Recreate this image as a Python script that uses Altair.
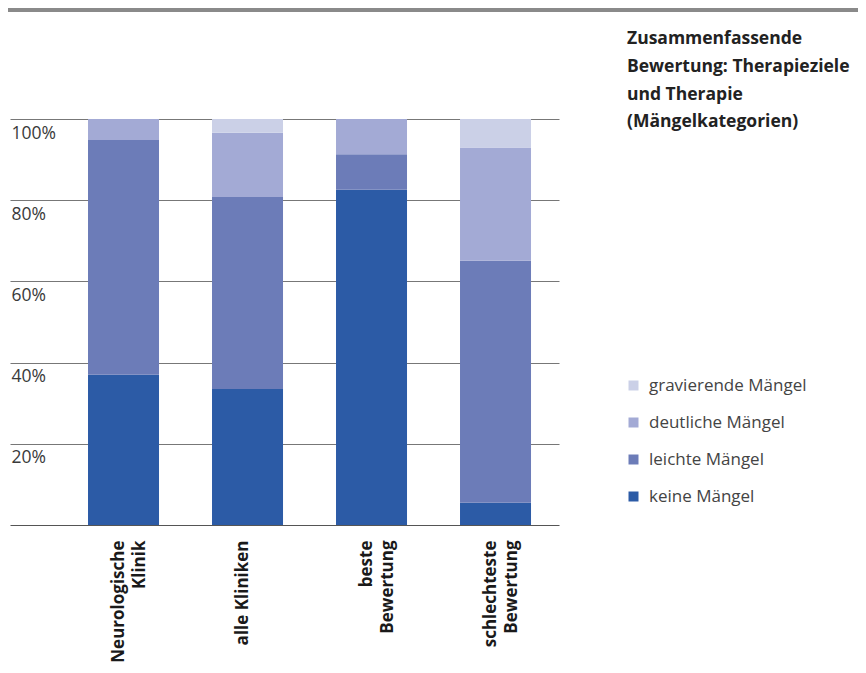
import altair as alt
import pandas as pd

categories = ["Neurologische\nKlinik", "alle Kliniken", "beste\nBewertung", "schlechteste\nBewertung"]
series = ["keine Mängel", "leichte Mängel", "deutliche Mängel", "gravierende Mängel"]
keine = [37.0, 33.5, 82.6, 5.5]
leichte = [57.8, 47.3, 8.7, 59.6]
deutliche = [5.2, 15.8, 8.7, 27.9]
gravierende = [0.0, 3.4, 0.0, 7.0]
colors = ["#2c5ba6", "#6c7cb8", "#a3aad5", "#cbd0e7"]
y_ticks = [20, 40, 60, 80, 100]
title_lines = ["Zusammenfassende", "Bewertung: Therapieziele", "und Therapie", "(Mängelkategorien)"]

rows = []
for si, (name, vals) in enumerate(zip(series, [keine, leichte, deutliche, gravierende])):
    for c, v in zip(categories, vals):
        rows.append({"Kategorie": c, "Serie": name, "Wert": v, "idx": si})
df = pd.DataFrame(rows)

FONT = "Open Sans"

bars = alt.Chart(df).mark_bar().encode(
    x=alt.X("Kategorie:N", sort=categories,
            scale=alt.Scale(paddingInner=0.4274, paddingOuter=0.4274, align=0.736),
            axis=alt.Axis(title=None, labelAngle=270, labelAlign="right", labelBaseline="middle",
                          labelPadding=15, labelFontSize=17, labelFontWeight="bold", labelColor="#1a1a1a",
                          labelFont=FONT, labelLineHeight=21.5, labelOffset=-5,
                          labelExpr="split(datum.label, '\\n')", ticks=False,
                          domainColor="#555555", domainWidth=1.2, labelLimit=0)),
    y=alt.Y("Wert:Q", stack="zero", scale=alt.Scale(domain=[0, 100], nice=False),
            axis=alt.Axis(title=None, values=y_ticks, labelExpr="datum.value + '%'",
                          domain=False, ticks=False, tickSize=0, grid=True, gridColor="#777777",
                          gridWidth=1, labelAlign="left", labelBaseline="top", labelPadding=-1,
                          labelOffset=5, labelFontSize=17.5, labelFont=FONT, labelFontWeight="normal",
                          labelColor="#3a3a3a")),
    color=alt.Color("Serie:N", scale=alt.Scale(domain=series, range=colors),
                    legend=alt.Legend(title=None, orient="none", legendX=615, legendY=258,
                                      values=series[::-1], symbolType="square", symbolSize=100,
                                      symbolStrokeWidth=0, labelFontSize=17, labelFont=FONT,
                                      labelFontWeight="normal", labelColor="#444444", labelOffset=7,
                                      rowPadding=19)),
    order=alt.Order("idx:Q", sort="ascending"),
)

topbar = alt.Chart(pd.DataFrame({"a": [0]})).mark_rule(color="#8a8a8a", strokeWidth=4).encode(
    x=alt.value(-2), x2=alt.value(848), y=alt.value(-109)
)

title = alt.Chart(pd.DataFrame({"a": [0]})).mark_text(
    align="left", baseline="alphabetic", font=FONT, fontSize=17.5, fontWeight="bold",
    color="#222222", lineHeight=27.7
).encode(x=alt.value(617), y=alt.value(-74.7), text=alt.value(title_lines))

chart = alt.layer(bars, topbar, title).properties(
    width=549, height=406,
    padding={"left": 2, "top": 111, "right": 299, "bottom": 138},
    autosize="none",
).configure_view(stroke=None)

chart.save("out.html", embed_options={"renderer": "svg", "actions": False})
